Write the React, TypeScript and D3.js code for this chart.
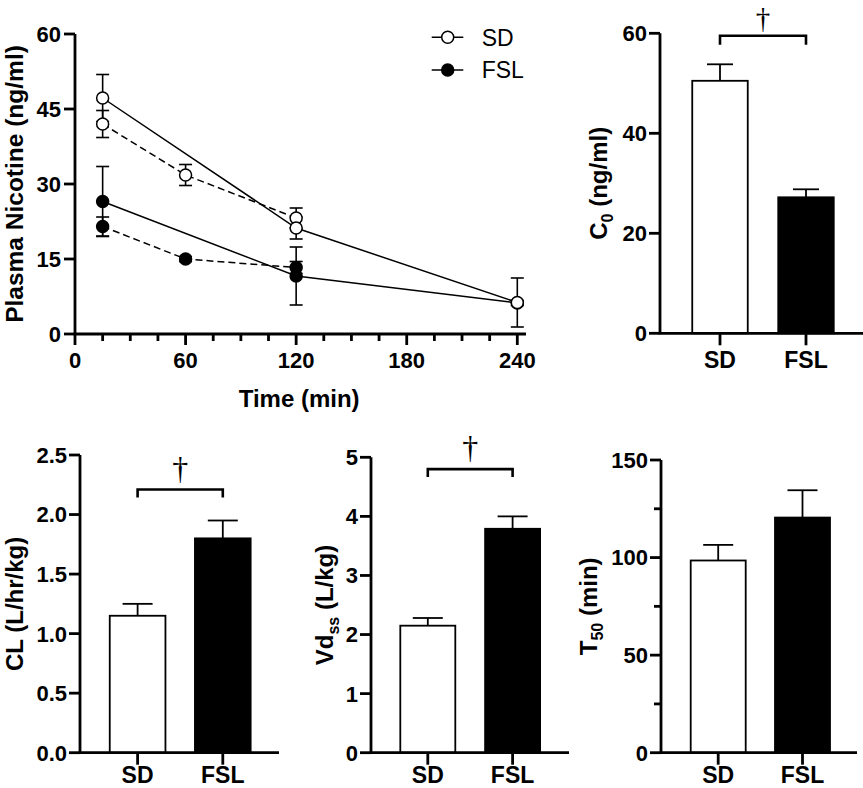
import React from 'react';
import * as d3 from 'd3';

// ---------- DATA ----------
const timeTicks = [0, 60, 120, 180, 240];
const concTicks = [0, 15, 30, 45, 60];
const legendLabels = ['SD', 'FSL'];

const sdTimesSolid = [15, 120, 240];
const sdMeanSolid = [47.2, 21.2, 6.3];
const sdSemSolid = [4.7, 2.2, 4.9];
const sdTimesDashed = [15, 60, 120];
const sdMeanDashed = [42.0, 31.8, 23.2];
const sdSemDashed = [2.7, 2.1, 2.0];

const fslTimesSolid = [15, 120, 240];
const fslMeanSolid = [26.5, 11.6, 6.2];
const fslSemSolid = [7.0, 5.8, 0.5];
const fslTimesDashed = [15, 60, 120];
const fslMeanDashed = [21.5, 15.0, 13.3];
const fslSemDashed = [1.9, 0.5, 1.2];

const groups = ['SD', 'FSL'];
const c0Mean = [50.5, 27.2];
const c0Sem = [3.3, 1.6];
const c0Ticks = [0, 20, 40, 60];
const clMean = [1.15, 1.8];
const clSem = [0.1, 0.15];
const clTicks = [0, 0.5, 1.0, 1.5, 2.0, 2.5];
const vdMean = [2.15, 3.79];
const vdSem = [0.13, 0.21];
const vdTicks = [0, 1, 2, 3, 4, 5];
const t50Mean = [98.5, 120.5];
const t50Sem = [8.0, 14.0];
const t50Ticks = [0, 50, 100, 150];
const t50Minor = [25, 75, 125];

const FONT = "'Liberation Sans', Arial, Helvetica, sans-serif";
const AXW = 2.8;
const TICKFS = 22;
const TITLEFS = 24;

type Series = { t: number[]; m: number[]; s: number[]; filled: boolean; dashed: boolean };

function LinePanel() {
  const x = d3.scaleLinear().domain([0, 240]).range([75, 517.3]);
  const y = d3.scaleLinear().domain([0, 60]).range([334, 34]);
  const minor = d3.range(0, 241, 15).filter((v) => !timeTicks.includes(v));
  const series: Series[] = [
    { t: fslTimesSolid, m: fslMeanSolid, s: fslSemSolid, filled: true, dashed: false },
    { t: fslTimesDashed, m: fslMeanDashed, s: fslSemDashed, filled: true, dashed: true },
    { t: sdTimesDashed, m: sdMeanDashed, s: sdSemDashed, filled: false, dashed: true },
    { t: sdTimesSolid, m: sdMeanSolid, s: sdSemSolid, filled: false, dashed: false },
  ];
  const line = d3
    .line<[number, number]>()
    .x((d) => x(d[0]))
    .y((d) => y(d[1]));
  const capW = 6.5;
  return (
    <g>
      {series.map((s, i) => (
        <path
          key={'l' + i}
          d={line(s.t.map((t, j) => [t, s.m[j]]) as [number, number][]) || ''}
          fill="none"
          stroke="#000"
          strokeWidth={1.5}
          strokeDasharray={s.dashed ? '7,4' : undefined}
        />
      ))}
      {series.map((s, i) =>
        s.t.map((t, j) => {
          const cx = x(t);
          const y1 = y(s.m[j] + s.s[j]);
          const y2 = y(s.m[j] - s.s[j]);
          return (
            <g key={'e' + i + '-' + j} stroke="#000" strokeWidth={1.6}>
              <line x1={cx} x2={cx} y1={y1} y2={y2} />
              <line x1={cx - capW} x2={cx + capW} y1={y1} y2={y1} />
              <line x1={cx - capW} x2={cx + capW} y1={y2} y2={y2} />
            </g>
          );
        })
      )}
      {series.map((s, i) =>
        s.t.map((t, j) => (
          <circle
            key={'c' + i + '-' + j}
            cx={x(t)}
            cy={y(s.m[j])}
            r={6}
            fill={s.filled ? '#000' : '#fff'}
            stroke="#000"
            strokeWidth={1.5}
          />
        ))
      )}
      <line x1={x(0)} x2={x(0)} y1={y(60)} y2={y(0)} stroke="#000" strokeWidth={AXW} />
      <line x1={x(0) - 1.4} x2={526} y1={y(0)} y2={y(0)} stroke="#000" strokeWidth={AXW} />
      {concTicks.map((v) => (
        <g key={'yt' + v}>
          <line x1={x(0) - 11} x2={x(0)} y1={y(v)} y2={y(v)} stroke="#000" strokeWidth={AXW} />
          <text x={x(0) - 14} y={y(v)} dy="0.36em" textAnchor="end" fontFamily={FONT} fontWeight="bold" fontSize={TICKFS}>
            {v}
          </text>
        </g>
      ))}
      {timeTicks.map((v) => (
        <g key={'xt' + v}>
          <line x1={x(v)} x2={x(v)} y1={y(0)} y2={y(0) + 11} stroke="#000" strokeWidth={AXW} />
          <text x={x(v)} y={368} textAnchor="middle" fontFamily={FONT} fontWeight="bold" fontSize={TICKFS}>
            {v}
          </text>
        </g>
      ))}
      {minor.map((v) => (
        <line key={'mt' + v} x1={x(v)} x2={x(v)} y1={y(0)} y2={y(0) + 7} stroke="#000" strokeWidth={AXW} />
      ))}
      <text x={x(120) + 3} y={407} textAnchor="middle" fontFamily={FONT} fontWeight="bold" fontSize={TITLEFS}>
        Time (min)
      </text>
      <text
        transform={`translate(23,${(y(0) + y(60)) / 2}) rotate(-90)`}
        textAnchor="middle"
        fontFamily={FONT}
        fontWeight="bold"
        fontSize={24.5}
      >
        Plasma Nicotine (ng/ml)
      </text>
      {legendLabels.map((lab, i) => {
        const ly = 37.3 + i * 32.7;
        return (
          <g key={'lg' + lab}>
            <line x1={431.7} x2={463.3} y1={ly} y2={ly} stroke="#000" strokeWidth={1.5} />
            <circle cx={447.7} cy={ly} r={6} fill={i === 0 ? '#fff' : '#000'} stroke="#000" strokeWidth={1.5} />
            <text x={481.7} y={ly} dy="0.36em" fontFamily={FONT} fontSize={23}>
              {lab}
            </text>
          </g>
        );
      })}
    </g>
  );
}

type BarProps = {
  axisX: number;
  axisEnd: number;
  yTop: number;
  yBottom: number;
  max: number;
  ticks: number[];
  minor?: number[];
  fmt: (v: number) => string;
  c1: number;
  c2: number;
  bw: number;
  means: number[];
  sems: number[];
  capW: number;
  title: React.ReactNode;
  titleX: number;
  labelY: number;
  bracket?: { value: number; drop: number; daggerBottom: number; daggerSize: number };
};

function BarPanel(p: BarProps) {
  const y = d3.scaleLinear().domain([0, p.max]).range([p.yBottom, p.yTop]);
  const xb = d3
    .scaleBand<string>()
    .domain(groups)
    .range([p.c1 - p.bw / 2, p.c2 + p.bw / 2])
    .paddingInner(1 - p.bw / (p.c2 - p.c1))
    .paddingOuter(0);
  const bw = xb.bandwidth();
  const cx = (g: string) => (xb(g) as number) + bw / 2;
  return (
    <g>
      {groups.map((g, i) => (
        <g key={'b' + g}>
          <line
            x1={cx(g)}
            x2={cx(g)}
            y1={y(p.means[i])}
            y2={y(p.means[i] + p.sems[i])}
            stroke="#000"
            strokeWidth={1.8}
          />
          <line
            x1={cx(g) - p.capW / 2}
            x2={cx(g) + p.capW / 2}
            y1={y(p.means[i] + p.sems[i])}
            y2={y(p.means[i] + p.sems[i])}
            stroke="#000"
            strokeWidth={1.8}
          />
          <rect
            x={xb(g)}
            y={y(p.means[i])}
            width={bw}
            height={y(0) - y(p.means[i])}
            fill={i === 0 ? '#fff' : '#000'}
            stroke="#000"
            strokeWidth={1.8}
          />
        </g>
      ))}
      <line x1={p.axisX} x2={p.axisX} y1={p.yTop} y2={p.yBottom} stroke="#000" strokeWidth={AXW} />
      <line x1={p.axisX - 1.4} x2={p.axisEnd} y1={p.yBottom} y2={p.yBottom} stroke="#000" strokeWidth={AXW} />
      {p.ticks.map((v) => (
        <g key={'t' + v}>
          <line x1={p.axisX - 11} x2={p.axisX} y1={y(v)} y2={y(v)} stroke="#000" strokeWidth={AXW} />
          <text x={p.axisX - 13} y={y(v)} dy="0.36em" textAnchor="end" fontFamily={FONT} fontWeight="bold" fontSize={TICKFS}>
            {p.fmt(v)}
          </text>
        </g>
      ))}
      {(p.minor || []).map((v) => (
        <line key={'m' + v} x1={p.axisX - 7} x2={p.axisX} y1={y(v)} y2={y(v)} stroke="#000" strokeWidth={AXW} />
      ))}
      {groups.map((g) => (
        <g key={'x' + g}>
          <line x1={cx(g)} x2={cx(g)} y1={p.yBottom} y2={p.yBottom + 12} stroke="#000" strokeWidth={AXW} />
          <text x={cx(g)} y={p.labelY} textAnchor="middle" fontFamily={FONT} fontWeight="bold" fontSize={23}>
            {g}
          </text>
        </g>
      ))}
      <text
        transform={`translate(${p.titleX},${(p.yTop + p.yBottom) / 2}) rotate(-90)`}
        textAnchor="middle"
        fontFamily={FONT}
        fontWeight="bold"
        fontSize={TITLEFS}
      >
        {p.title}
      </text>
      {p.bracket && (
        <g>
          <path
            d={`M${cx(groups[0])},${y(p.bracket.value) + p.bracket.drop}V${y(p.bracket.value)}H${cx(groups[1])}V${
              y(p.bracket.value) + p.bracket.drop
            }`}
            fill="none"
            stroke="#000"
            strokeWidth={2.6}
          />
          <text
            x={(cx(groups[0]) + cx(groups[1])) / 2}
            y={p.bracket.daggerBottom}
            textAnchor="middle"
            fontFamily="'Liberation Serif', 'Times New Roman', serif"
            fontSize={p.bracket.daggerSize}
          >
            †
          </text>
        </g>
      )}
    </g>
  );
}

export default function App() {
  const f1 = d3.format('.1f');
  const f0 = d3.format('d');
  return (
    <svg
      width={863}
      height={788}
      viewBox="0 0 863 788"
      style={{ position: 'absolute', left: 0, top: 0, background: '#fff' }}
    >
      <rect x={0} y={0} width={863} height={788} fill="#fff" />
      <LinePanel />
      <BarPanel
        axisX={660}
        axisEnd={863}
        yTop={33.3}
        yBottom={333.3}
        max={60}
        ticks={c0Ticks}
        fmt={f0}
        c1={720}
        c2={806}
        bw={55.5}
        means={c0Mean}
        sems={c0Sem}
        capW={26}
        titleX={607}
        labelY={368}
        title={
          <>
            C<tspan dy={6} fontSize={16}>0</tspan>
            <tspan dy={-6}> (ng/ml)</tspan>
          </>
        }
        bracket={{ value: 59.5, drop: 9, daggerBottom: 28, daggerSize: 29 }}
      />
      <BarPanel
        axisX={80}
        axisEnd={279}
        yTop={455}
        yBottom={752.7}
        max={2.5}
        ticks={clTicks}
        fmt={f1}
        c1={137.6}
        c2={222.8}
        bw={55.7}
        means={clMean}
        sems={clSem}
        capW={30}
        titleX={23}
        labelY={783}
        title="CL (L/hr/kg)"
        bracket={{ value: 2.21, drop: 8, daggerBottom: 479, daggerSize: 32 }}
      />
      <BarPanel
        axisX={371}
        axisEnd={569}
        yTop={457.3}
        yBottom={752.7}
        max={5}
        ticks={vdTicks}
        fmt={f0}
        c1={427.8}
        c2={512.6}
        bw={55}
        means={vdMean}
        sems={vdSem}
        capW={30}
        titleX={333}
        labelY={783}
        title={
          <>
            Vd<tspan dy={6} fontSize={16}>ss</tspan>
            <tspan dy={-6}> (L/kg)</tspan>
          </>
        }
        bracket={{ value: 4.8, drop: 8, daggerBottom: 458, daggerSize: 32 }}
      />
      <BarPanel
        axisX={661}
        axisEnd={857}
        yTop={460}
        yBottom={752.7}
        max={150}
        ticks={t50Ticks}
        minor={t50Minor}
        fmt={f0}
        c1={718.2}
        c2={802.5}
        bw={55}
        means={t50Mean}
        sems={t50Sem}
        capW={30}
        titleX={597}
        labelY={783}
        title={
          <>
            T<tspan dy={6} fontSize={16}>50</tspan>
            <tspan dy={-6}> (min)</tspan>
          </>
        }
      />
    </svg>
  );
}
